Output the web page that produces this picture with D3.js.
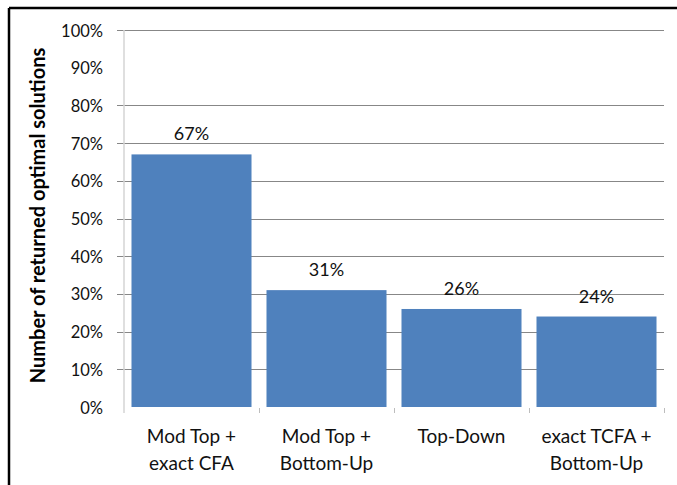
<!DOCTYPE html>
<html>
<head>
<meta charset="utf-8">
<script src="https://cdn.jsdelivr.net/npm/d3@7"></script>
<style>
  html, body { margin: 0; padding: 0; background: #fff; }
  svg { display: block; font-family: Lato, "Open Sans", sans-serif; }
</style>
</head>
<body>
<svg id="chart" width="677" height="485"></svg>
<script>
// Share of optimal solutions returned by each method
const categories = [
  ["Mod Top +", "exact CFA"],
  ["Mod Top +", "Bottom-Up"],
  ["Top-Down"],
  ["exact TCFA +", "Bottom-Up"]
];
const values = [0.67, 0.31, 0.26, 0.24];
const yTicks = [0, 0.1, 0.2, 0.3, 0.4, 0.5, 0.6, 0.7, 0.8, 0.9, 1.0];
const gridTicks = [0.1, 0.2, 0.3, 0.4, 0.5, 0.6, 0.7, 0.8, 1.0];
const yTitle = "Number of returned optimal solutions";

const svg = d3.select("#chart");
const plot = { left: 124, right: 664, top: 30, bottom: 407 };

const x = d3.scaleBand()
  .domain(d3.range(categories.length))
  .range([plot.left, plot.right])
  .paddingInner(0.111)
  .paddingOuter(0.0555);

const y = d3.scaleLinear().domain([0, 1]).range([plot.bottom, plot.top]);

// outer frame (top and left edges)
svg.append("line").attr("x1", 9).attr("x2", 677).attr("y1", 8).attr("y2", 8)
  .attr("stroke", "#000").attr("stroke-width", 2.5);
svg.append("line").attr("x1", 9).attr("x2", 9).attr("y1", 8).attr("y2", 485)
  .attr("stroke", "#000").attr("stroke-width", 2.5);

// horizontal gridlines with left tick stubs
svg.append("g").selectAll("line").data(gridTicks).join("line")
  .attr("x1", plot.left - 7).attr("x2", plot.right)
  .attr("y1", d => Math.round(y(d)) + 0.5).attr("y2", d => Math.round(y(d)) + 0.5)
  .attr("stroke", "#878787").attr("stroke-width", 1);

// y axis labels
svg.append("g").selectAll("text").data(yTicks).join("text")
  .attr("x", 103).attr("y", d => y(d) + 6.5)
  .attr("text-anchor", "end")
  .attr("font-size", 16.5).attr("fill", "#111")
  .text(d => d3.format(".0%")(d));

// y axis line
svg.append("line").attr("x1", plot.left).attr("x2", plot.left)
  .attr("y1", plot.top).attr("y2", plot.bottom + 6)
  .attr("stroke", "#d4d4d4").attr("stroke-width", 1.5);

// category separator ticks
const sepX = d3.range(1, categories.length + 1).map(i => plot.left + i * x.step());
svg.append("g").selectAll("line").data(sepX).join("line")
  .attr("x1", d => Math.round(d) + 0.5).attr("x2", d => Math.round(d) + 0.5)
  .attr("y1", plot.bottom + 1).attr("y2", plot.bottom + 6)
  .attr("stroke", "#bdbdbd").attr("stroke-width", 1);

// bars
svg.append("g").selectAll("rect").data(values).join("rect")
  .attr("x", (d, i) => x(i))
  .attr("width", x.bandwidth())
  .attr("y", d => y(d))
  .attr("height", d => y(0) - y(d))
  .attr("fill", "#4f81bd");

// value labels
svg.append("g").selectAll("text").data(values).join("text")
  .attr("x", (d, i) => x(i) + x.bandwidth() / 2)
  .attr("y", d => y(d) - 14)
  .attr("text-anchor", "middle")
  .attr("font-size", 18).attr("fill", "#111")
  .text(d => d3.format(".0%")(d));

// category labels
const cat = svg.append("g").selectAll("text").data(categories).join("text")
  .attr("x", (d, i) => x(i) + x.bandwidth() / 2)
  .attr("y", 443)
  .attr("text-anchor", "middle")
  .attr("font-size", 19).attr("fill", "#111");
cat.selectAll("tspan").data(d => d).join("tspan")
  .attr("x", function () { return d3.select(this.parentNode).attr("x"); })
  .attr("dy", (d, i) => i === 0 ? 0 : 27)
  .text(d => d);

// y axis title
svg.append("text")
  .attr("transform", `translate(45, ${(plot.top + plot.bottom) / 2 - 3}) rotate(-90)`)
  .attr("text-anchor", "middle")
  .attr("font-size", 20).attr("font-weight", "bold").attr("fill", "#000")
  .text(yTitle);
</script>
</body>
</html>
